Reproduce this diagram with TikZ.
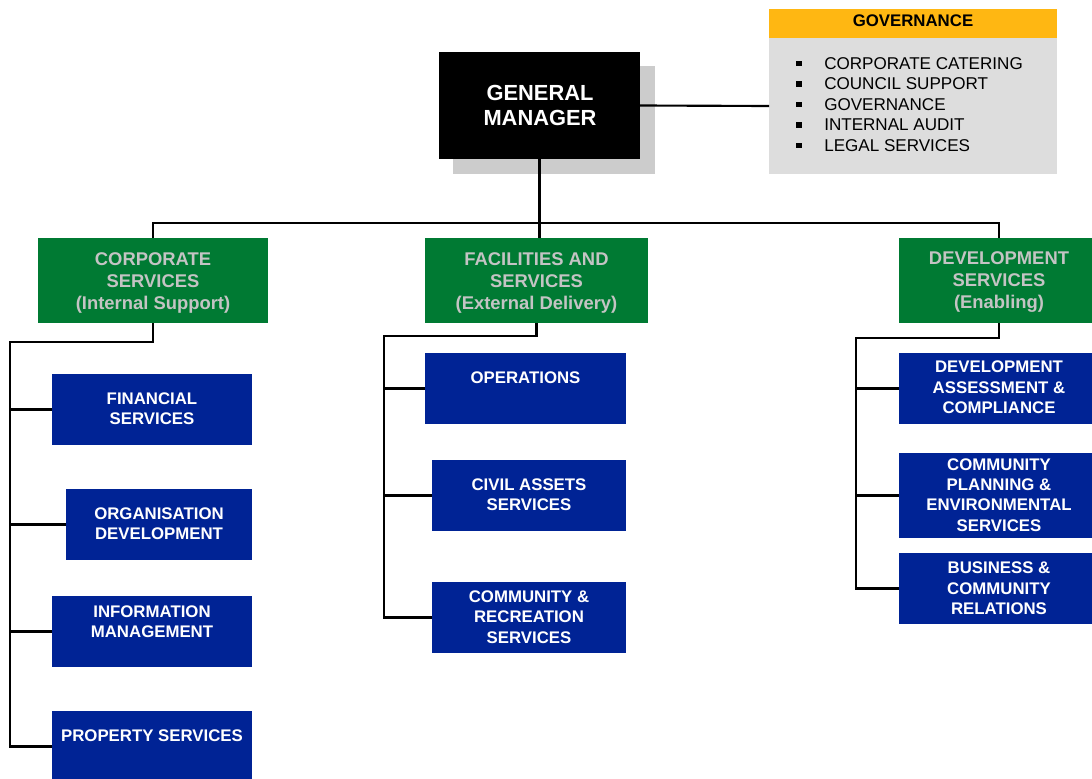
\documentclass[tikz,border=0pt]{standalone}
\usepackage{fontspec}
\setmainfont{Liberation Sans}
\usetikzlibrary{fit}
\definecolor{gmgreen}{RGB}{0,122,51}
\definecolor{gmblue}{RGB}{0,35,149}
\definecolor{gmorange}{RGB}{255,183,18}
\definecolor{gmgray}{RGB}{221,221,221}
\definecolor{shadowgray}{RGB}{204,204,204}
\definecolor{greentext}{RGB}{196,196,196}
\begin{document}
\begin{tikzpicture}[x=0.75pt,y=-0.75pt,
  box/.style={inner sep=0pt, outer sep=0pt, draw=none},
  bluebox/.style={box, fill=gmblue},
  greenbox/.style={box, fill=gmgreen},
  btext/.style={text=white, font=\fontsize{12.6}{15.3}\selectfont\bfseries, align=center, inner sep=0pt},
  gtext/.style={text=greentext, font=\fontsize{13.8}{16.5}\selectfont\bfseries, align=center, inner sep=0pt},
  gmtext/.style={text=white, font=\fontsize{16.4}{18.8}\selectfont\bfseries, align=center, inner sep=0pt},
  govhead/.style={text=black, font=\fontsize{12.6}{15}\selectfont\bfseries, inner sep=0pt},
  govitem/.style={text=black, font=\fontsize{12.8}{15}\selectfont, inner sep=0pt, anchor=west},
  bullet/.style={fill=black, inner sep=0pt, minimum size=4pt},
  conn/.style={line width=1.6pt, black}]
\useasboundingbox (0,0) rectangle (1092,778);
\clip (0,0) rectangle (1092,778);

% General manager with shadow
\node[box, fill=shadowgray, fit={(453,66) (655,174)}] (gmshadow) {};
\node[box, fill=black, fit={(439,52) (640,159)}] (gm) {};
\node[gmtext] (gmt) at (540,105.5) {GENERAL\\MANAGER};

% Governance box
\node[box, fill=gmorange, fit={(769,9) (1057,38)}] (govh) {};
\node[box, fill=gmgray, fit={(769,38) (1057,174)}] (govb) {};
\node[govhead] (govht) at (913,21) {GOVERNANCE};
\foreach \t [count=\i from 0] in {CORPORATE CATERING, COUNCIL SUPPORT, GOVERNANCE, INTERNAL AUDIT, LEGAL SERVICES} {
  \node[bullet] (bul\i) at (799,63.5+20.5*\i) {};
  \node[govitem] (item\i) at (824,63.5+20.5*\i) {\t};
}

% Directorates
\node[greenbox, fit={(38,238) (268,323)}] (cs) {};
\node[gtext] (cst) at (153,282.5) {CORPORATE\\SERVICES\\(Internal Support)};
\node[greenbox, fit={(425,238) (648,323)}] (fs) {};
\node[gtext] (fst) at (536.5,282.5) {FACILITIES AND\\SERVICES\\(External Delivery)};
\node[greenbox, fit={(899,238) (1099,323)}] (ds) {};
\node[gtext] (dst) at (999,282.5) {DEVELOPMENT\\SERVICES\\(Enabling)};

% Corporate services units
\node[bluebox, fit={(52,374) (252,445)}] (fin) {};
\node[btext] (fint) at (152,409) {FINANCIAL\\SERVICES};
\node[bluebox, fit={(66,489) (252,560)}] (org) {};
\node[btext] (orgt) at (159,523.5) {ORGANISATION\\DEVELOPMENT};
\node[bluebox, fit={(52,596) (252,667)}] (info) {};
\node[btext] (infot) at (152,621.5) {INFORMATION\\MANAGEMENT};
\node[bluebox, fit={(52,711) (252,782)}] (prop) {};
\node[btext] (propt) at (152,735.5) {PROPERTY SERVICES};

% Facilities units
\node[bluebox, fit={(425,353) (626,424)}] (ops) {};
\node[btext] (opst) at (525.5,377.5) {OPERATIONS};
\node[bluebox, fit={(432,460) (626,531)}] (civ) {};
\node[btext] (civt) at (529,495) {CIVIL ASSETS\\SERVICES};
\node[bluebox, fit={(432,582) (626,653)}] (crs) {};
\node[btext] (crst) at (529,617) {COMMUNITY \&\\RECREATION\\SERVICES};

% Development units
\node[bluebox, fit={(899,353) (1099,424)}] (dac) {};
\node[btext] (dact) at (999,387.5) {DEVELOPMENT\\ASSESSMENT \&\\COMPLIANCE};
\node[bluebox, fit={(899,453) (1099,538)}] (cpe) {};
\node[btext] (cpet) at (999,495) {COMMUNITY\\PLANNING \&\\ENVIRONMENTAL\\SERVICES};
\node[bluebox, fit={(899,553) (1099,624)}] (bcr) {};
\node[btext] (bcrt) at (999,588.5) {BUSINESS \&\\COMMUNITY\\RELATIONS};

% Connectors
\coordinate (topbus) at (540,223);
\draw[conn] (gm.east) -- (govb.west);
\draw[conn] (gm.south) -- (gm.south |- fs.north);
\draw[conn] (cs.north) |- (topbus) -| (ds.north);

\coordinate (csbus) at (10,342);
\draw[conn] (cs.south) |- (csbus) |- (prop.west);
\draw[conn] (csbus |- fin.west) -- (fin.west);
\draw[conn] (csbus |- org.west) -- (org.west);
\draw[conn] (csbus |- info.west) -- (info.west);

\coordinate (fsbus) at (384,336);
\draw[conn] (fs.south) |- (fsbus) |- (crs.west);
\draw[conn] (fsbus |- ops.west) -- (ops.west);
\draw[conn] (fsbus |- civ.west) -- (civ.west);

\coordinate (dsbus) at (856,338);
\draw[conn] (ds.south) |- (dsbus) |- (bcr.west);
\draw[conn] (dsbus |- dac.west) -- (dac.west);
\draw[conn] (dsbus |- cpe.west) -- (cpe.west);
\end{tikzpicture}
\end{document}
